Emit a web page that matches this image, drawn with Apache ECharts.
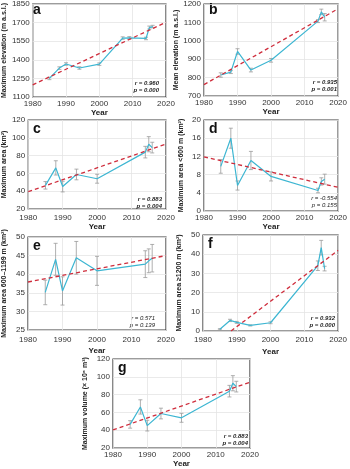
<!DOCTYPE html>
<html>
<head>
<meta charset="utf-8">
<script src="https://cdn.jsdelivr.net/npm/echarts@6/dist/echarts.min.js"></script>
<style>
  html, body { margin: 0; padding: 0; background: #fff; }
  #main { width: 350px; height: 469px; }
</style>
</head>
<body>
<div id="main"></div>
<script>
// survey years
var years = [1985, 1988, 1990, 1994, 2000, 2014, 2015, 2016];
var yearsElev = [1985, 1988, 1990, 1994, 2000, 2007, 2009, 2014, 2015, 2016];

// a - maximum elevation
var maxElev = [1250, 1333, 1366, 1334, 1365, 1575, 1577, 1572, 1660, 1668];
var maxElevErr = [10, 10, 10, 10, 10, 10, 10, 10, 12, 10];
// b - mean elevation
var meanElev = [814, 830, 942, 841, 894, 1107, 1157, 1128];
var meanElevErr = [12, 8, 15, 10, 10, 8, 15, 20];
// c - maximum area
var maxArea = [46.6, 66.2, 45.2, 58.8, 54.0, 83.9, 92.8, 89.0];
var maxAreaErr = [4.2, 8, 6, 6, 5, 6.5, 8.5, 6];
// d - area < 600 m
var areaLow = [9.8, 16, 5.6, 11.1, 7.6, 4.5, 6.5, 7.0];
var areaLowErr = [1.5, 2.2, 1.0, 2.0, 1.0, 0.5, 0.8, 1.1];
// e - area 600-1199 m
var areaMid = [35.1, 44.0, 35.5, 44.4, 40.9, 42.7, 43.6, 44.3];
var areaMidErr = [3.3, 4.3, 3.8, 4.4, 3.9, 3.6, 3.2, 3.7];
// f - area >= 1200 m
var areaHigh = [0.9, 5.5, 4.5, 2.9, 4.3, 34.0, 43.4, 32.5];
var areaHighErr = [0.3, 0.6, 0.5, 0.3, 0.5, 2.5, 3.8, 1.2];
// g - maximum volume
var maxVol = [46.6, 66.2, 45.2, 58.8, 54.0, 83.9, 92.8, 89.0];
var maxVolErr = [4.2, 8, 6, 6, 5, 6.5, 8.5, 6];

// regression lines (end points)
var trendYears = [1980, 2020];
var trendYearsF = [1988.3, 2020];
var trendA = [1198, 1703];
var trendB = [762, 1174];
var trendC = [39.5, 93];
var trendD = [11.9, 5.2];
var trendE = [37.9, 45];
var trendF = [0, 42];
var trendG = [40.4, 94];

var yTicks = {
    a: [1100, 1850, 150], b: [700, 1200, 100], c: [20, 120, 20], d: [0, 20, 4],
    e: [25, 50, 5], f: [0, 50, 10], g: [20, 120, 20]
};

var panels = [
    { id: 'a', xs: yearsElev, v: maxElev, err: maxElevErr, tx: trendYears, t: trendA,
      name: 'Maximum elevation (m a.s.l.)', r: 'r = 0.960', p: 'p = 0.000', bold: true,
      grid: { left: 28, top: 1, width: 138, height: 96 }, nameGap: 20, yearGap: 10, lblMargin: 3, rx: 159, ry: 83 },
    { id: 'b', xs: years, v: meanElev, err: meanElevErr, tx: trendYears, t: trendB,
      name: 'Mean elevation (m a.s.l.)', r: 'r = 0.935', p: 'p = 0.001', bold: true,
      grid: { left: 204, top: 1, width: 138, height: 95 }, nameGap: 20, yearGap: 10, lblMargin: 3, rx: 337, ry: 82 },
    { id: 'c', xs: years, v: maxArea, err: maxAreaErr, tx: trendYears, t: trendC,
      name: 'Maximum area (km²)', r: 'r = 0.883', p: 'p = 0.004', bold: true,
      grid: { left: 28, top: 120, width: 138, height: 89 }, nameGap: 20, yearGap: 13, lblMargin: 5, rx: 162, ry: 199 },
    { id: 'd', xs: years, v: areaLow, err: areaLowErr, tx: trendYears, t: trendD,
      name: 'Maximum area <600 m (km²)', r: 'r = -0.554', p: 'p = 0.155', bold: false,
      grid: { left: 204, top: 120, width: 138, height: 91 }, nameGap: 19, yearGap: 10, lblMargin: 3, rx: 337, ry: 198 },
    { id: 'e', xs: years, v: areaMid, err: areaMidErr, tx: trendYears, t: trendE,
      name: 'Maximum area 600–1199 m (km²)', r: 'r = 0.571', p: 'p = 0.139', bold: false,
      grid: { left: 28, top: 237, width: 138, height: 93 }, nameGap: 20, yearGap: 17, lblMargin: 6, rx: 155, ry: 318 },
    { id: 'f', xs: years, v: areaHigh, err: areaHighErr, tx: trendYearsF, t: trendF,
      name: 'Maximum area ≥1200 m (km²)', r: 'r = 0.932', p: 'p = 0.000', bold: true,
      grid: { left: 203, top: 235, width: 139, height: 96 }, nameGap: 20, yearGap: 17, lblMargin: 5, rx: 335, ry: 318 },
    { id: 'g', xs: years, v: maxVol, err: maxVolErr, tx: trendYears, t: trendG,
      name: 'Maximum volume (× 10⁶ m³)', r: 'r = 0.883', p: 'p = 0.004', bold: true,
      grid: { left: 113, top: 359, width: 137, height: 90 }, nameGap: 24, yearGap: 11, lblMargin: 3, rx: 248, ry: 436 }
];

function zip(xs, ys) {
    return xs.map(function (x, k) { return [x, ys[k]]; });
}

function errorBars(params, api) {
    var x = api.value(0), y = api.value(1), e = api.value(2);
    var top = api.coord([x, y + e]);
    var bot = api.coord([x, y - e]);
    var st = { stroke: '#9a9a9a', lineWidth: 0.8 };
    return {
        type: 'group',
        children: [
            { type: 'line', shape: { x1: top[0], y1: top[1], x2: bot[0], y2: bot[1] }, style: st },
            { type: 'line', shape: { x1: top[0] - 2, y1: top[1], x2: top[0] + 2, y2: top[1] }, style: st },
            { type: 'line', shape: { x1: bot[0] - 2, y1: bot[1], x2: bot[0] + 2, y2: bot[1] }, style: st }
        ]
    };
}

function plain(v) { return String(v); }

var grids = [], xAxes = [], yAxes = [], series = [], graphics = [];
var font = 'Liberation Sans, Arial, sans-serif';

panels.forEach(function (p, i) {
    grids.push(Object.assign({ show: true, borderColor: '#3a3a3a', borderWidth: 1.2, containLabel: false }, p.grid));
    xAxes.push({
        gridIndex: i, type: 'value', min: 1980, max: 2020, interval: 10,
        name: 'Year', nameLocation: 'middle', nameGap: p.yearGap,
        nameTextStyle: { fontSize: 8, fontWeight: 'bold', color: '#222', fontFamily: font },
        axisLine: { show: false }, axisTick: { show: false },
        axisLabel: { fontSize: 8, color: '#333', margin: p.lblMargin, fontFamily: font, formatter: plain },
        splitLine: { show: true, lineStyle: { color: '#e4e4e4', width: 0.8 } }
    });
    var yt = yTicks[p.id];
    yAxes.push({
        gridIndex: i, type: 'value', min: yt[0], max: yt[1], interval: yt[2],
        name: p.name, nameLocation: 'middle', nameGap: p.nameGap,
        nameTextStyle: { fontSize: 7, fontWeight: 'bold', color: '#222', fontFamily: font },
        axisLine: { show: false }, axisTick: { show: false },
        axisLabel: { fontSize: 8, color: '#333', margin: 3, fontFamily: font, formatter: plain },
        splitLine: { show: true, lineStyle: { color: '#e4e4e4', width: 0.8 } }
    });
    series.push({
        type: 'custom', xAxisIndex: i, yAxisIndex: i, renderItem: errorBars, z: 2, silent: true,
        data: p.xs.map(function (x, k) { return [x, p.v[k], p.err[k]]; })
    });
    series.push({
        type: 'line', xAxisIndex: i, yAxisIndex: i, z: 3, silent: true,
        showSymbol: false, data: zip(p.xs, p.v),
        lineStyle: { color: '#3db6d2', width: 1.2 }
    });
    series.push({
        type: 'line', xAxisIndex: i, yAxisIndex: i, z: 4, silent: true,
        showSymbol: false, data: zip(p.tx, p.t),
        lineStyle: { color: '#cf2d3c', width: 1.3, type: [4, 3] }
    });
    graphics.push({
        type: 'text', left: p.grid.left + 5, top: p.grid.top + 2,
        style: { text: p.id, font: 'bold 14px ' + font, fill: '#111' }
    });
    var f = (p.bold ? 'italic bold ' : 'italic ') + '6px ' + font;
    graphics.push({
        type: 'text', x: p.rx, y: p.ry,
        style: { text: p.r, textAlign: 'right', textVerticalAlign: 'middle', font: f, fill: '#222' }
    });
    graphics.push({
        type: 'text', x: p.rx, y: p.ry + 7,
        style: { text: p.p, textAlign: 'right', textVerticalAlign: 'middle', font: f, fill: '#222' }
    });
});

var chart = echarts.init(document.getElementById('main'));
chart.setOption({
    animation: false,
    grid: grids,
    xAxis: xAxes,
    yAxis: yAxes,
    series: series,
    graphic: graphics
});
</script>
</body>
</html>
